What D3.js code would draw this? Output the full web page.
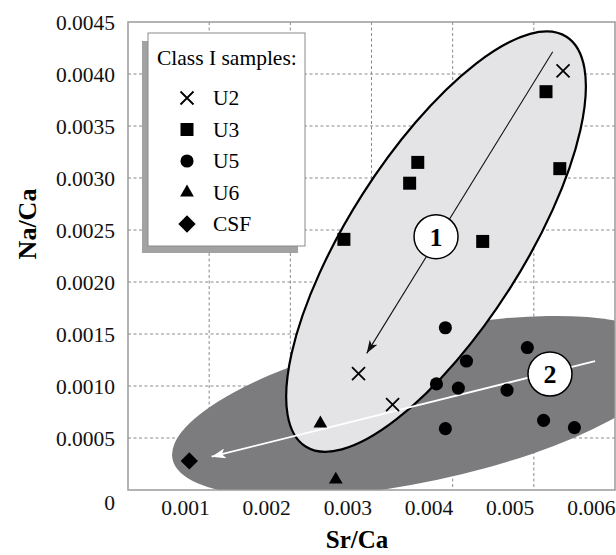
<!DOCTYPE html>
<html>
<head>
<meta charset="utf-8">
<script src="https://cdn.jsdelivr.net/npm/d3@7"></script>
<style>
  body { margin: 0; background: #fff; }
  svg { display: block; font-family: 'Liberation Serif', 'Times New Roman', serif; }
</style>
</head>
<body>
<div id="graph"></div>
<script>
// Class I samples, Sr/Ca against Na/Ca
const seriesNames = ['U2', 'U3', 'U5', 'U6', 'CSF']
const u2 = [[0.00536, 0.00403], [0.00284, 0.00112], [0.00326, 0.00082]]
const u3 = [
  [0.00515, 0.00383], [0.00357, 0.00315], [0.00347, 0.00295],
  [0.00532, 0.00309], [0.00266, 0.00241], [0.00437, 0.00239],
]
const u5 = [
  [0.00391, 0.00156], [0.00492, 0.00137], [0.00417, 0.00124],
  [0.0038, 0.00102], [0.00407, 0.00098], [0.00467, 0.00096],
  [0.00512, 0.00067], [0.0055, 0.0006], [0.00391, 0.00059],
]
const u6 = [[0.00237, 0.00064], [0.00256, 0.0001]]
const csf = [[0.000755, 0.00028]]

const xTicks = [0.001, 0.002, 0.003, 0.004, 0.005, 0.006]
const yTicks = [0, 0.0005, 0.001, 0.0015, 0.002, 0.0025, 0.003, 0.0035, 0.004, 0.0045]

// groups: centre and end of the long axis (data units), short/long axis ratio
const group1 = { centre: [0.003795, 0.002388], tip: [0.005402, 0.004358], ratio: 0.36 }
const group2 = { centre: [0.003622, 0.000804], tip: [0.006695, 0.001313], ratio: 0.294 }
const trend1 = [[0.005233, 0.004214], [0.002941, 0.001314]]
const trend2 = [[0.005754, 0.00124], [0.001031, 0.00032]]
const label1 = [0.003795, 0.002436]
const label2 = [0.005199, 0.001115]

const serif = "'Liberation Serif', 'Times New Roman', serif"

// symbols that d3 doesn't give in the right shape
const symX = {
  draw(ctx, size) {
    const r = Math.sqrt(size) / 2
    ctx.moveTo(-r, -r); ctx.lineTo(r, r)
    ctx.moveTo(-r, r); ctx.lineTo(r, -r)
  },
}
const symDiamond = {
  draw(ctx, size) {
    const r = Math.sqrt(size / 2)
    ctx.moveTo(0, -r); ctx.lineTo(r, 0); ctx.lineTo(0, r); ctx.lineTo(-r, 0)
    ctx.closePath()
  },
}

const series = [
  { name: 'U2', data: u2, type: symX, size: 169, stroke: true },
  { name: 'U3', data: u3, type: d3.symbolSquare, size: 169 },
  { name: 'U5', data: u5, type: d3.symbolCircle, size: 135 },
  { name: 'U6', data: u6, type: d3.symbolTriangle, size: 82 },
  { name: 'CSF', data: csf, type: symDiamond, size: 150 },
]

const margin = { top: 22, right: 1, bottom: 65, left: 128 },
  width = 616 - margin.left - margin.right,
  height = 555 - margin.top - margin.bottom

const svg = d3
  .select('#graph')
  .append('svg')
  .attr('width', 616)
  .attr('height', 555)
  .attr('font-family', serif)

const defs = svg.append('defs')
defs.append('clipPath').attr('id', 'plotClip')
  .append('rect').attr('width', width).attr('height', height)

function arrowHead(id, color, len, half) {
  defs.append('marker')
    .attr('id', id)
    .attr('viewBox', `0 ${-half} ${len} ${half * 2}`)
    .attr('refX', len).attr('refY', 0)
    .attr('markerWidth', len).attr('markerHeight', half * 2)
    .attr('markerUnits', 'userSpaceOnUse')
    .attr('orient', 'auto')
    .append('path')
    .attr('d', `M0,${-half}L${len},0L0,${half}L${len * 0.25},0Z`)
    .attr('fill', color)
}
arrowHead('head1', '#111', 13, 4.5)
arrowHead('head2', '#fff', 14, 5)

const g = svg.append('g').attr('transform', `translate(${margin.left},${margin.top})`)

const x = d3.scaleLinear().domain([0, 0.006]).range([0, width])
const y = d3.scaleLinear().domain([0, 0.0045]).range([height, 0])

// grid
g.append('g')
  .selectAll('line')
  .data(xTicks.slice(0, -1))
  .enter()
  .append('line')
  .attr('x1', (d) => x(d)).attr('x2', (d) => x(d))
  .attr('y1', 0).attr('y2', height)
g.append('g')
  .selectAll('line')
  .data(yTicks.slice(1, -1))
  .enter()
  .append('line')
  .attr('x1', 0).attr('x2', width)
  .attr('y1', (d) => y(d)).attr('y2', (d) => y(d))
g.selectAll('line')
  .attr('stroke', '#8a8a8a')
  .attr('stroke-width', 1)
  .attr('stroke-dasharray', '3,2.5')

// group ellipses
const ellipses = g.append('g').attr('clip-path', 'url(#plotClip)')
function drawGroup(grp, fill, stroke) {
  const cx = x(grp.centre[0]), cy = y(grp.centre[1])
  const tx = x(grp.tip[0]), ty = y(grp.tip[1])
  const a = Math.hypot(tx - cx, ty - cy)
  const angle = (Math.atan2(ty - cy, tx - cx) * 180) / Math.PI
  ellipses.append('ellipse')
    .attr('transform', `translate(${cx},${cy}) rotate(${angle})`)
    .attr('rx', a)
    .attr('ry', a * grp.ratio)
    .attr('fill', fill)
    .attr('stroke', stroke)
    .attr('stroke-width', stroke === 'none' ? 0 : 2.2)
}
drawGroup(group2, '#7c7c7f', 'none')
drawGroup(group1, '#e4e4e6', '#000')

// frame
g.append('rect')
  .attr('width', width).attr('height', height)
  .attr('fill', 'none').attr('stroke', '#9a9a9a').attr('stroke-width', 1.5)

// trend arrows
g.append('line')
  .attr('x1', x(trend1[0][0])).attr('y1', y(trend1[0][1]))
  .attr('x2', x(trend1[1][0])).attr('y2', y(trend1[1][1]))
  .attr('stroke', '#111').attr('stroke-width', 1.1)
  .attr('marker-end', 'url(#head1)')
g.append('line')
  .attr('x1', x(trend2[0][0])).attr('y1', y(trend2[0][1]))
  .attr('x2', x(trend2[1][0])).attr('y2', y(trend2[1][1]))
  .attr('stroke', '#fff').attr('stroke-width', 1.8)
  .attr('marker-end', 'url(#head2)')

// numbered labels
;[[label1, '1'], [label2, '2']].forEach(([p, t]) => {
  g.append('circle')
    .attr('cx', x(p[0])).attr('cy', y(p[1])).attr('r', 22)
    .attr('fill', '#fff').attr('stroke', '#000').attr('stroke-width', 1.5)
  g.append('text')
    .attr('x', x(p[0])).attr('y', y(p[1]))
    .attr('dy', '0.35em')
    .attr('text-anchor', 'middle')
    .attr('font-size', 26).attr('font-weight', 'bold')
    .text(t)
})

// points
series.forEach((s) => {
  g.append('g')
    .selectAll('path')
    .data(s.data)
    .enter()
    .append('path')
    .attr('transform', (d) => `translate(${x(d[0])},${y(d[1])})`)
    .attr('d', d3.symbol().type(s.type).size(s.size))
    .attr('fill', s.stroke ? 'none' : '#000')
    .attr('stroke', s.stroke ? '#000' : 'none')
    .attr('stroke-width', 1.8)
})

// axes
const yAxis = g.append('g')
  .call(d3.axisLeft(y).tickValues(yTicks).tickSize(0).tickPadding(13)
    .tickFormat((d) => (d === 0 ? '0' : d3.format('.4f')(d))))
yAxis.attr('font-family', serif).attr('font-size', 21.5)
yAxis.select('.domain').remove()
yAxis.selectAll('text')
  .attr('font-family', serif)
  .attr('fill', '#111')
  .attr('dy', (d) => (d === 0 ? '0.9em' : '0.35em'))

const xAxis = g.append('g')
  .attr('transform', `translate(0,${height})`)
  .call(d3.axisBottom(x).tickValues(xTicks).tickSize(0).tickFormat(d3.format('.3f')))
xAxis.attr('font-family', serif).attr('font-size', 21.5)
xAxis.select('.domain').remove()
xAxis.selectAll('text')
  .attr('font-family', serif)
  .attr('fill', '#111')
  .attr('y', 25).attr('dy', 0)
  .style('text-anchor', 'end')

svg.append('text')
  .attr('transform', 'translate(36,224) rotate(-90)')
  .attr('text-anchor', 'middle')
  .attr('font-size', 26).attr('font-weight', 'bold')
  .text('Na/Ca')
svg.append('text')
  .attr('x', 357).attr('y', 548)
  .attr('text-anchor', 'middle')
  .attr('font-size', 25).attr('font-weight', 'bold')
  .text('Sr/Ca')

// legend with drop shadow
const legend = svg.append('g').attr('transform', 'translate(148,33)')
legend.append('rect')
  .attr('x', -6).attr('y', 8).attr('width', 156).attr('height', 212)
  .attr('fill', '#a2a2a2')
legend.append('rect')
  .attr('width', 157).attr('height', 213)
  .attr('fill', '#fff').attr('stroke', '#8a8a8a').attr('stroke-width', 1)
legend.append('text')
  .attr('x', 9).attr('y', 32)
  .attr('font-size', 21.5)
  .text('Class I samples:')
series.forEach((s, i) => {
  const cy = 65 + i * 31.5
  legend.append('path')
    .attr('transform', `translate(39,${cy})`)
    .attr('d', d3.symbol().type(s.type).size(s.size))
    .attr('fill', s.stroke ? 'none' : '#000')
    .attr('stroke', s.stroke ? '#000' : 'none')
    .attr('stroke-width', 1.8)
  legend.append('text')
    .attr('x', 65).attr('y', cy + 7)
    .attr('font-size', 21.5)
    .text(seriesNames[i])
})
</script>
</body>
</html>
